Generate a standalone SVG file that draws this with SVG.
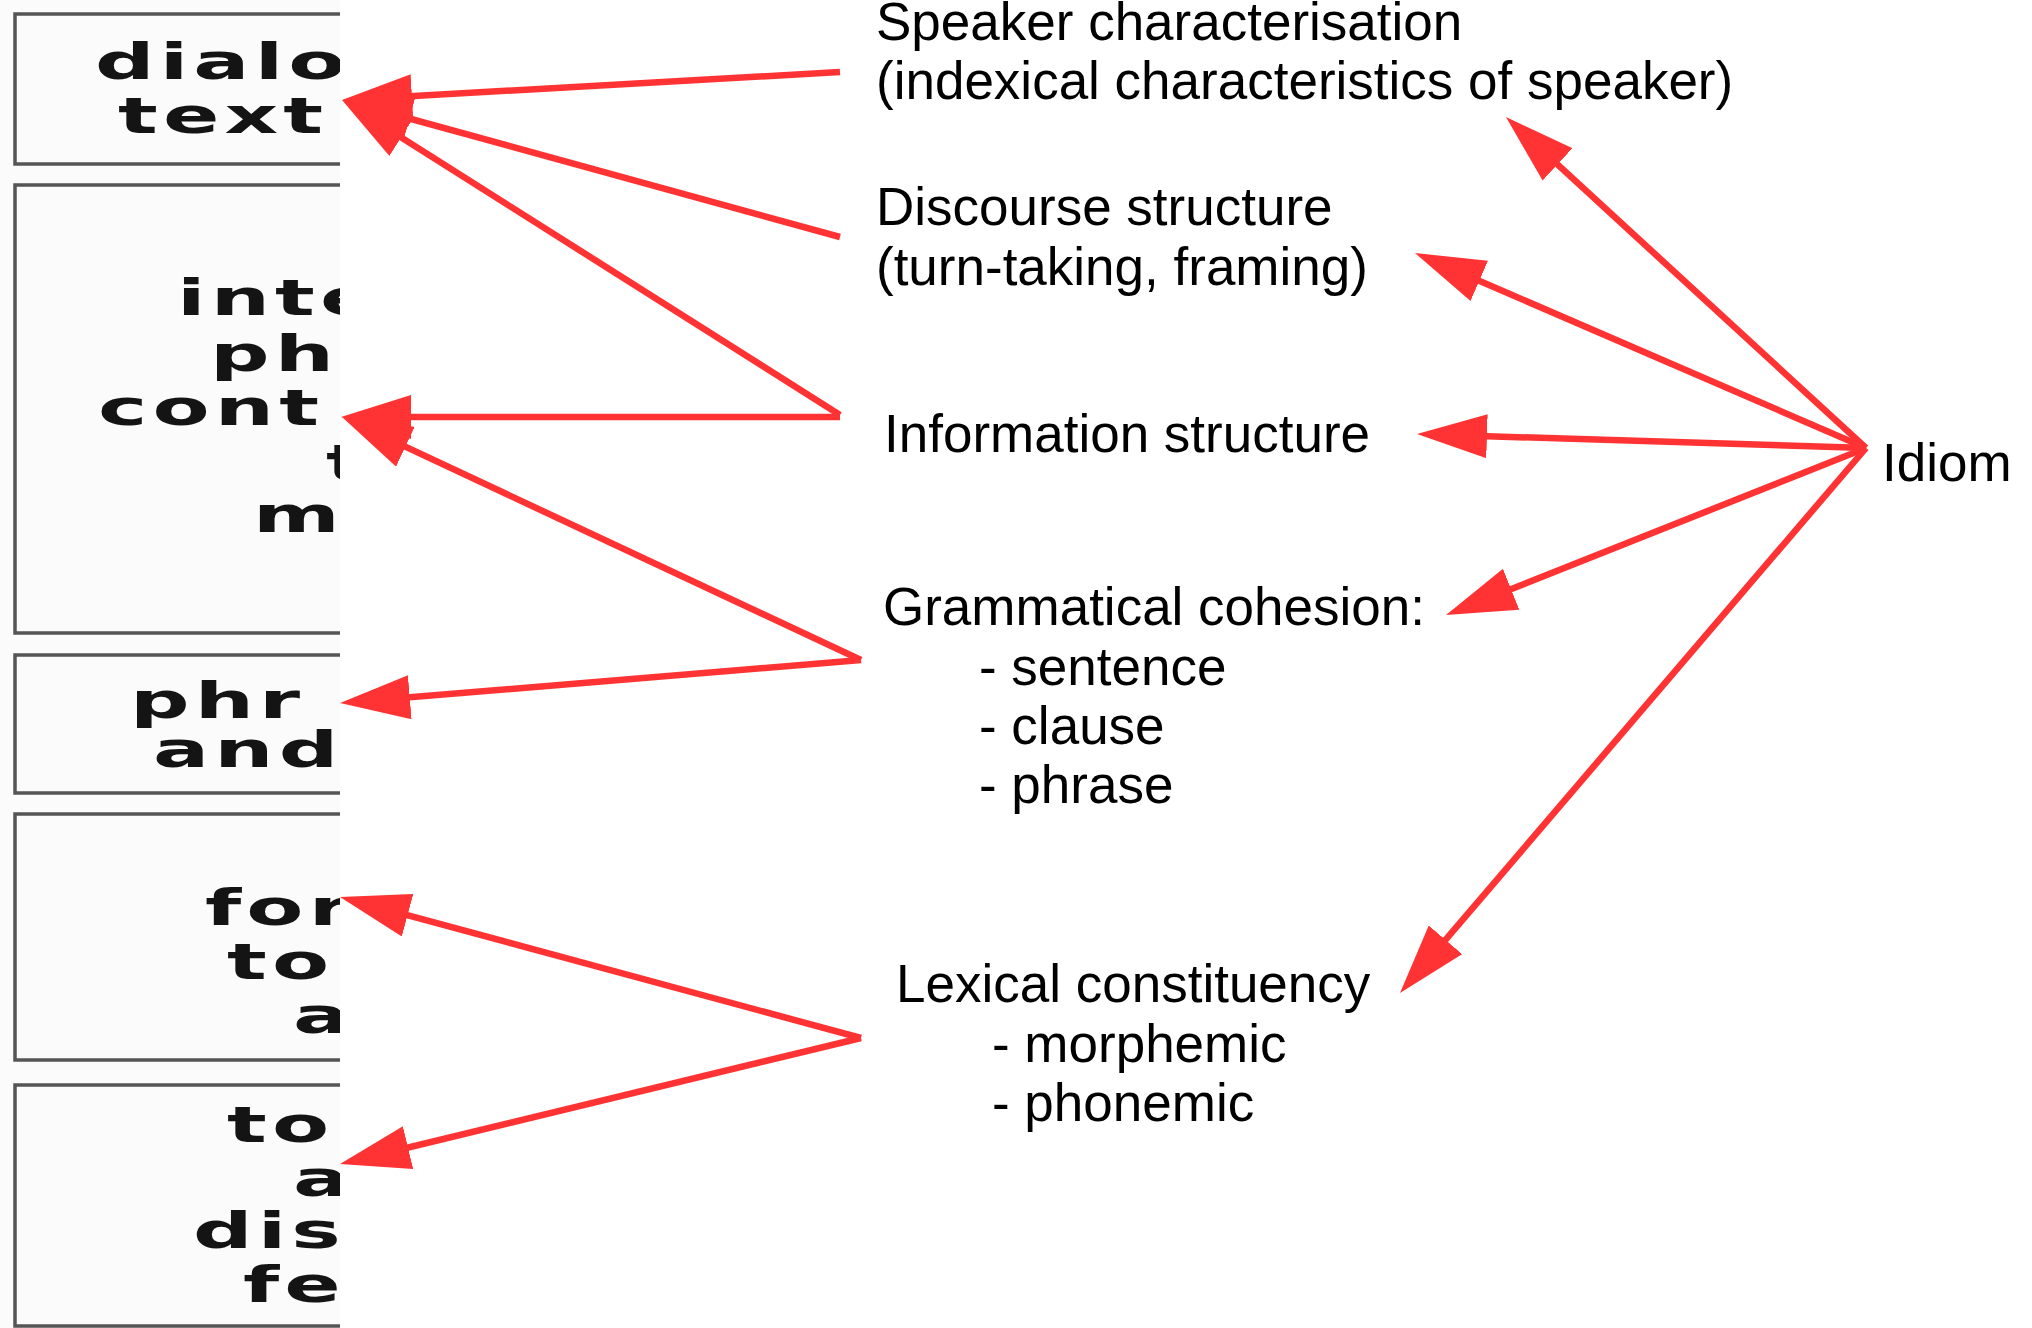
<svg xmlns="http://www.w3.org/2000/svg" width="2032" height="1328" viewBox="0 0 2032 1328">
  <style>
    .lbl { font-family: "Liberation Sans", Arial, sans-serif; font-size: 53px; fill: #000; }
    .frag { font-family: "DejaVu Sans", sans-serif; font-weight: bold; font-size: 49px; fill: #141414; letter-spacing: 3px; }
    .box { fill: none; stroke: #555; stroke-width: 3.5; }
    .conn { stroke: #ff3333; stroke-width: 6.5; fill: none; }
  </style>
  <defs>
    <clipPath id="clipL">
      <rect x="0" y="0" width="340" height="1328"/>
    </clipPath>
    <marker id="ah" markerUnits="userSpaceOnUse" viewBox="0 0 70 44" refX="55" refY="22" markerWidth="70" markerHeight="44" orient="auto">
      <path d="M0,0 L70,22 L0,44 z" fill="#ff3333"/>
    </marker>
  </defs>
  <rect x="0" y="0" width="2032" height="1328" fill="#ffffff"/>

  <g id="left-panel" clip-path="url(#clipL)">
    <rect x="0" y="0" width="340" height="1328" fill="#fbfbfb"/>
    <g id="box-dialogue">
      <rect class="box" x="15" y="14" width="420" height="150"/>
      <g transform="scale(1.7,1)">
        <text class="frag" x="55.88" y="79">dialo</text>
        <text class="frag" x="69.41" y="133">text</text>
      </g>
    </g>
    <g id="box-interphrasal">
      <rect class="box" x="15" y="185" width="420" height="448"/>
      <g transform="scale(1.7,1)">
        <text class="frag" x="104.12" y="315">inte</text>
        <text class="frag" x="123.53" y="371">ph</text>
        <text class="frag" x="57.65" y="425">cont</text>
        <text class="frag" x="191.76" y="480">t</text>
        <text class="frag" x="148.82" y="532">m</text>
      </g>
    </g>
    <g id="box-phrase">
      <rect class="box" x="15" y="655" width="420" height="138"/>
      <g transform="scale(1.7,1)">
        <text class="frag" x="76.47" y="718">phr</text>
        <text class="frag" x="90" y="767">and</text>
      </g>
    </g>
    <g id="box-form">
      <rect class="box" x="15" y="814" width="420" height="246"/>
      <g transform="scale(1.7,1)">
        <text class="frag" x="120.59" y="925">for</text>
        <text class="frag" x="133.53" y="979">to</text>
        <text class="frag" x="172.35" y="1033">a</text>
      </g>
    </g>
    <g id="box-tone">
      <rect class="box" x="15" y="1085" width="420" height="241"/>
      <g transform="scale(1.7,1)">
        <text class="frag" x="133.53" y="1142">to</text>
        <text class="frag" x="172.35" y="1196">a</text>
        <text class="frag" x="113.53" y="1248">dis</text>
        <text class="frag" x="142.94" y="1302">fe</text>
      </g>
    </g>
  </g>

  <g id="connectors">
    <line class="conn" x1="840" y1="72" x2="357" y2="99.2" marker-end="url(#ah)"/>
    <line class="conn" x1="840" y1="237" x2="356.5" y2="104" marker-end="url(#ah)"/>
    <line class="conn" x1="840" y1="415" x2="354.7" y2="108" marker-end="url(#ah)"/>
    <line class="conn" x1="840" y1="417" x2="356" y2="417" marker-end="url(#ah)"/>
    <line class="conn" x1="861" y1="660" x2="355.6" y2="423.4" marker-end="url(#ah)"/>
    <line class="conn" x1="861" y1="660" x2="355" y2="701.8" marker-end="url(#ah)"/>
    <line class="conn" x1="861" y1="1038" x2="354.5" y2="900.9" marker-end="url(#ah)"/>
    <line class="conn" x1="861" y1="1038" x2="354.6" y2="1160.5" marker-end="url(#ah)"/>
    <line class="conn" x1="1866" y1="448" x2="1517" y2="127.2" marker-end="url(#ah)"/>
    <line class="conn" x1="1866" y1="448" x2="1428.8" y2="259" marker-end="url(#ah)"/>
    <line class="conn" x1="1866" y1="448" x2="1432" y2="434.5" marker-end="url(#ah)"/>
    <line class="conn" x1="1866" y1="448" x2="1460" y2="609.5" marker-end="url(#ah)"/>
    <line class="conn" x1="1866" y1="448" x2="1409.75" y2="981.6" marker-end="url(#ah)"/>
  </g>

  <g id="node-speaker">
    <text class="lbl" x="876" y="40">Speaker characterisation</text>
    <text class="lbl" x="876" y="99">(indexical characteristics of speaker)</text>
  </g>
  <g id="node-discourse">
    <text class="lbl" x="876" y="225">Discourse structure</text>
    <text class="lbl" x="876" y="285">(turn-taking, framing)</text>
  </g>
  <g id="node-information">
    <text class="lbl" x="884" y="452">Information structure</text>
  </g>
  <g id="node-grammatical">
    <text class="lbl" x="883" y="625">Grammatical cohesion:</text>
    <text class="lbl" x="979" y="685">- sentence</text>
    <text class="lbl" x="979" y="744">- clause</text>
    <text class="lbl" x="979" y="803">- phrase</text>
  </g>
  <g id="node-lexical">
    <text class="lbl" x="896" y="1002">Lexical constituency</text>
    <text class="lbl" x="992" y="1062">- morphemic</text>
    <text class="lbl" x="992" y="1121">- phonemic</text>
  </g>
  <g id="node-idiom">
    <text class="lbl" x="1882" y="481">Idiom</text>
  </g>
</svg>
